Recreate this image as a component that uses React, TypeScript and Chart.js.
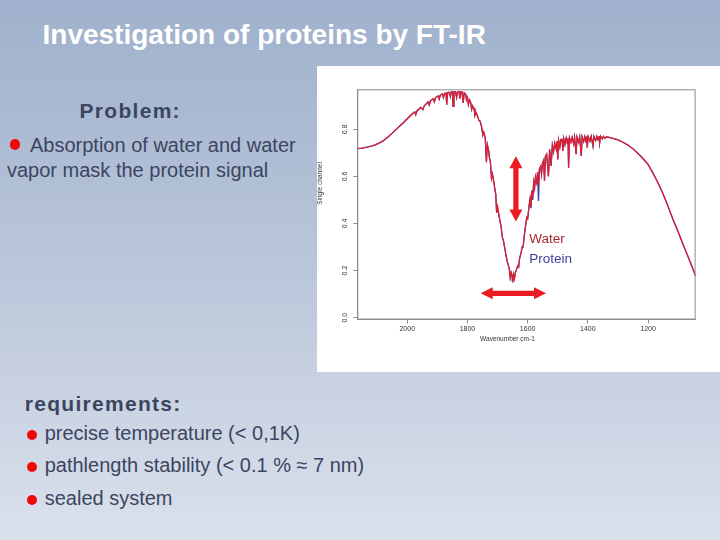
import React, { useEffect, useRef } from "react";
import { Chart, registerables } from "chart.js";

Chart.register(...registerables);

// Wavenumbers (cm-1)
const wavenumbers = [
  2166, 2150, 2131, 2115, 2097, 2080, 2064, 2048, 2031, 2015,
  2000, 1985, 1975, 1972, 1968, 1955, 1948, 1944, 1931, 1927,
  1923, 1914, 1910, 1906, 1898, 1894, 1890, 1883, 1880, 1876,
  1871, 1869, 1866, 1860, 1857, 1854, 1850, 1848, 1845, 1840,
  1836, 1833, 1828, 1825, 1822, 1818, 1814, 1811, 1806, 1803,
  1800, 1797, 1793, 1789, 1786, 1783, 1778, 1775, 1772, 1766,
  1762, 1758, 1752, 1749, 1746, 1741, 1737, 1734, 1730, 1727,
  1724, 1720, 1717, 1712, 1709, 1706, 1703, 1700, 1696, 1692,
  1688, 1684, 1681, 1676, 1672, 1668, 1665, 1661, 1658, 1655,
  1652, 1650, 1647, 1644, 1641, 1637, 1633, 1630, 1627, 1622,
  1618, 1615, 1612, 1607, 1603, 1600, 1596, 1592, 1589, 1586,
  1583, 1580, 1577, 1574, 1570, 1567, 1564, 1561, 1557, 1554,
  1551, 1547, 1544, 1541, 1537, 1531, 1527, 1522, 1518, 1514,
  1510, 1505, 1502, 1500, 1497, 1493, 1490, 1486, 1483, 1480,
  1476, 1472, 1468, 1466, 1464, 1461, 1456, 1452, 1447, 1444,
  1439, 1436, 1431, 1427, 1422, 1419, 1414, 1410, 1406, 1404,
  1402, 1399, 1393, 1389, 1383, 1380, 1374, 1370, 1366, 1363,
  1361, 1358, 1352, 1348, 1343, 1338, 1333, 1320, 1300, 1285,
  1267, 1250, 1234, 1217, 1200, 1184, 1167, 1150, 1134, 1118,
  1101, 1085, 1068, 1055, 1042,
];

// Single channel intensity, water
const water = [
  0.718, 0.720, 0.725, 0.730, 0.739, 0.751, 0.767, 0.786, 0.807, 0.826,
  0.845, 0.864, 0.874, 0.862, 0.878, 0.893, 0.884, 0.899, 0.916, 0.903,
  0.921, 0.930, 0.917, 0.935, 0.942, 0.928, 0.946, 0.950, 0.935, 0.952,
  0.954, 0.905, 0.956, 0.957, 0.940, 0.958, 0.959, 0.898, 0.959, 0.960,
  0.935, 0.960, 0.960, 0.930, 0.959, 0.958, 0.912, 0.955, 0.950, 0.925,
  0.935, 0.905, 0.925, 0.912, 0.885, 0.900, 0.888, 0.860, 0.872, 0.855,
  0.838, 0.835, 0.805, 0.775, 0.788, 0.765, 0.660, 0.735, 0.712, 0.680,
  0.665, 0.592, 0.610, 0.575, 0.545, 0.525, 0.445, 0.470, 0.440, 0.410,
  0.385, 0.340, 0.330, 0.295, 0.265, 0.240, 0.225, 0.208, 0.170, 0.192,
  0.180, 0.150, 0.183, 0.165, 0.190, 0.205, 0.220, 0.215, 0.250, 0.275,
  0.300, 0.300, 0.340, 0.390, 0.425, 0.420, 0.465, 0.505, 0.470, 0.540,
  0.510, 0.575, 0.550, 0.598, 0.575, 0.618, 0.560, 0.632, 0.642, 0.610,
  0.655, 0.668, 0.580, 0.685, 0.694, 0.602, 0.715, 0.644, 0.732, 0.705,
  0.742, 0.715, 0.750, 0.672, 0.753, 0.725, 0.757, 0.758, 0.708, 0.760,
  0.735, 0.762, 0.740, 0.763, 0.637, 0.764, 0.745, 0.766, 0.738, 0.766,
  0.694, 0.767, 0.745, 0.768, 0.687, 0.768, 0.748, 0.769, 0.745, 0.769,
  0.722, 0.769, 0.750, 0.770, 0.729, 0.770, 0.752, 0.770, 0.755, 0.771,
  0.740, 0.771, 0.760, 0.770, 0.762, 0.768, 0.767, 0.763, 0.755, 0.746,
  0.733, 0.717, 0.698, 0.676, 0.651, 0.615, 0.573, 0.525, 0.474, 0.420,
  0.368, 0.315, 0.262, 0.220, 0.177,
];

// Single channel intensity, protein
const protein = [
  0.718, 0.720, 0.725, 0.730, 0.739, 0.751, 0.767, 0.786, 0.807, 0.826,
  0.845, 0.864, 0.874, 0.862, 0.878, 0.893, 0.884, 0.899, 0.916, 0.903,
  0.921, 0.930, 0.917, 0.935, 0.942, 0.928, 0.946, 0.950, 0.935, 0.952,
  0.954, 0.905, 0.956, 0.957, 0.940, 0.958, 0.959, 0.898, 0.959, 0.960,
  0.935, 0.960, 0.960, 0.930, 0.959, 0.958, 0.912, 0.955, 0.950, 0.925,
  0.935, 0.905, 0.925, 0.912, 0.885, 0.900, 0.888, 0.860, 0.872, 0.855,
  0.838, 0.835, 0.805, 0.775, 0.788, 0.765, 0.660, 0.735, 0.712, 0.680,
  0.665, 0.592, 0.610, 0.575, 0.545, 0.525, 0.445, 0.470, 0.440, 0.410,
  0.385, 0.340, 0.330, 0.295, 0.265, 0.240, 0.225, 0.208, 0.170, 0.192,
  0.180, 0.150, 0.183, 0.165, 0.190, 0.205, 0.220, 0.215, 0.250, 0.275,
  0.300, 0.300, 0.340, 0.390, 0.425, 0.420, 0.465, 0.505, 0.465, 0.540,
  0.500, 0.575, 0.550, 0.598, 0.575, 0.618, 0.496, 0.632, 0.642, 0.610,
  0.655, 0.668, 0.585, 0.685, 0.694, 0.600, 0.715, 0.644, 0.732, 0.705,
  0.742, 0.715, 0.750, 0.672, 0.753, 0.725, 0.757, 0.758, 0.708, 0.760,
  0.735, 0.762, 0.740, 0.763, 0.637, 0.764, 0.745, 0.766, 0.738, 0.766,
  0.694, 0.767, 0.745, 0.768, 0.687, 0.768, 0.748, 0.769, 0.745, 0.769,
  0.722, 0.769, 0.750, 0.770, 0.729, 0.770, 0.752, 0.770, 0.755, 0.771,
  0.740, 0.771, 0.760, 0.770, 0.762, 0.768, 0.767, 0.763, 0.755, 0.746,
  0.733, 0.717, 0.698, 0.676, 0.651, 0.615, 0.573, 0.525, 0.474, 0.420,
  0.368, 0.315, 0.262, 0.220, 0.177,
];

const xTicks = [2000, 1800, 1600, 1400, 1200];
const yTicks = [0, 0.2, 0.4, 0.6, 0.8];
const xRange = [1042, 2166];
const yRange = [-0.008, 0.97];
const seriesNames = ["Water", "Protein"];
const legendAnchor = [1595, 0.316, 0.231]; // wavenumber, baseline Water, baseline Protein
const verticalArrow = [1639, 0.686, 0.408]; // wavenumber, top, bottom
const horizontalArrow = [1756, 1539, 0.103]; // from, to, level

const WATER_COLOR = "#e41e2a";
const PROTEIN_COLOR = "#3a3aa8";
const ARROW_COLOR = "#ec1a22";
const FONT = "'Liberation Sans', Arial, sans-serif";

function drawArrowV(ctx: CanvasRenderingContext2D, x: number, y1: number, y2: number) {
  const hl = 12, hw = 6.5, sw = 2.6;
  ctx.beginPath();
  ctx.moveTo(x, y1);
  ctx.lineTo(x + hw, y1 + hl);
  ctx.lineTo(x + sw, y1 + hl);
  ctx.lineTo(x + sw, y2 - hl);
  ctx.lineTo(x + hw, y2 - hl);
  ctx.lineTo(x, y2);
  ctx.lineTo(x - hw, y2 - hl);
  ctx.lineTo(x - sw, y2 - hl);
  ctx.lineTo(x - sw, y1 + hl);
  ctx.lineTo(x - hw, y1 + hl);
  ctx.closePath();
  ctx.fill();
}

function drawArrowH(ctx: CanvasRenderingContext2D, x1: number, x2: number, y: number) {
  const hl = 12, hw = 6, sw = 2.6;
  ctx.beginPath();
  ctx.moveTo(x1, y);
  ctx.lineTo(x1 + hl, y - hw);
  ctx.lineTo(x1 + hl, y - sw);
  ctx.lineTo(x2 - hl, y - sw);
  ctx.lineTo(x2 - hl, y - hw);
  ctx.lineTo(x2, y);
  ctx.lineTo(x2 - hl, y + hw);
  ctx.lineTo(x2 - hl, y + sw);
  ctx.lineTo(x1 + hl, y + sw);
  ctx.lineTo(x1 + hl, y + hw);
  ctx.closePath();
  ctx.fill();
}

const overlayPlugin = {
  id: "overlay",
  afterDraw(chart: any) {
    const ctx: CanvasRenderingContext2D = chart.ctx;
    const xs = chart.scales.x;
    const ys = chart.scales.y;
    const area = chart.chartArea;
    ctx.save();
    // frame
    ctx.strokeStyle = "#8c8c8c";
    ctx.lineWidth = 1;
    ctx.strokeRect(area.left + 0.5, area.top + 0.5, area.right - area.left - 1, area.bottom - area.top - 1);

    // tick labels
    ctx.fillStyle = "#333";
    ctx.font = `7px ${FONT}`;
    ctx.textAlign = "center";
    ctx.textBaseline = "middle";
    xTicks.forEach((v) => {
      ctx.fillText(String(v), xs.getPixelForValue(v), area.bottom + 10);
    });
    yTicks.forEach((v) => {
      ctx.save();
      ctx.translate(area.left - 12, ys.getPixelForValue(v));
      ctx.rotate(-Math.PI / 2);
      ctx.fillText(v.toFixed(1), 0, 0);
      ctx.restore();
    });
    // axis titles
    ctx.font = `6.5px ${FONT}`;
    ctx.fillText("Wavenumber cm-1", (area.left + area.right) / 2 - 19, area.bottom + 20);
    ctx.save();
    ctx.translate(3.5, ys.getPixelForValue(0.57));
    ctx.rotate(-Math.PI / 2);
    ctx.fillText("Single channel", 0, 0);
    ctx.restore();

    // arrows
    ctx.fillStyle = ARROW_COLOR;
    drawArrowV(ctx, xs.getPixelForValue(verticalArrow[0]), ys.getPixelForValue(verticalArrow[1]), ys.getPixelForValue(verticalArrow[2]));
    drawArrowH(ctx, xs.getPixelForValue(horizontalArrow[0]), xs.getPixelForValue(horizontalArrow[1]), ys.getPixelForValue(horizontalArrow[2]));

    // legend
    ctx.font = `13.5px ${FONT}`;
    ctx.textAlign = "left";
    ctx.textBaseline = "alphabetic";
    const lx = xs.getPixelForValue(legendAnchor[0]);
    ctx.fillStyle = "#a8262e";
    ctx.fillText(seriesNames[0], lx, ys.getPixelForValue(legendAnchor[1]));
    ctx.fillStyle = "#40409c";
    ctx.fillText(seriesNames[1], lx, ys.getPixelForValue(legendAnchor[2]));
    ctx.restore();
  },
};

function SpectrumChart() {
  const ref = useRef<HTMLCanvasElement | null>(null);
  useEffect(() => {
    if (!ref.current) return;
    const chart = new Chart(ref.current, {
      type: "line",
      data: {
        datasets: [
          {
            label: seriesNames[0],
            data: wavenumbers.map((x, i) => ({ x, y: water[i] })),
            borderColor: WATER_COLOR,
            borderWidth: 1.2,
            pointRadius: 0,
            tension: 0,
            fill: false,
          },
          {
            label: seriesNames[1],
            data: wavenumbers.map((x, i) => ({ x, y: protein[i] })),
            borderColor: PROTEIN_COLOR,
            borderWidth: 1.3,
            pointRadius: 0,
            tension: 0,
            fill: false,
          },
        ],
      },
      options: {
        animation: false,
        responsive: true,
        maintainAspectRatio: false,
        parsing: false as any,
        layout: { padding: { top: 23.3, right: 24.4, left: 0, bottom: 0 } },
        plugins: { legend: { display: false }, tooltip: { enabled: false } },
        scales: {
          x: {
            type: "linear",
            reverse: true,
            min: xRange[0],
            max: xRange[1],
            afterBuildTicks: (s: any) => {
              s.ticks = xTicks.map((value) => ({ value }));
            },
            afterFit: (s: any) => {
              s.height = 52.5;
            },
            ticks: { display: false },
            grid: { display: true, drawOnChartArea: false, drawTicks: true, tickLength: 4, color: "#8c8c8c", lineWidth: 1 },
            border: { display: true, color: "#8c8c8c", width: 1 },
          },
          y: {
            type: "linear",
            min: yRange[0],
            max: yRange[1],
            afterBuildTicks: (s: any) => {
              s.ticks = yTicks.map((value) => ({ value }));
            },
            afterFit: (s: any) => {
              s.width = 40.3;
            },
            ticks: { display: false },
            grid: { display: true, drawOnChartArea: false, drawTicks: true, tickLength: 4, color: "#8c8c8c", lineWidth: 1 },
            border: { display: true, color: "#8c8c8c", width: 1 },
          },
        },
      },
      plugins: [overlayPlugin],
    });
    return () => chart.destroy();
  }, []);
  return <canvas ref={ref} />;
}

const textColor = "#3b4560";

function Bullet({ x, y, d }: { x: number; y: number; d: number }) {
  return (
    <div
      style={{
        position: "absolute",
        left: x - d / 2,
        top: y - d / 2,
        width: d,
        height: d,
        borderRadius: "50%",
        background: "#f00808",
      }}
    />
  );
}

function Line({ x, top, size, bold, spacing, color, children }: any) {
  return (
    <div
      style={{
        position: "absolute",
        left: x,
        top,
        fontSize: size,
        lineHeight: 1,
        fontWeight: bold ? 700 : 400,
        letterSpacing: spacing || 0,
        color: color || textColor,
        whiteSpace: "nowrap",
        fontFamily: FONT,
      }}
    >
      {children}
    </div>
  );
}

export default function App() {
  return (
    <div
      style={{
        position: "fixed",
        left: 0,
        top: 0,
        width: 720,
        height: 540,
        overflow: "hidden",
        background: "linear-gradient(to bottom, #9fb1cc 0%, #bac6da 50%, #dbe1ec 100%)",
        fontFamily: FONT,
      }}
    >
      <Line x={42.5} top={21.3} size={28} bold color="#ffffff">
        Investigation of proteins by FT-IR
      </Line>
      <Line x={79.5} top={99.5} size={21} bold spacing={1.3}>
        Problem:
      </Line>
      <Bullet x={15} y={144.7} d={10.7} />
      <Line x={30} top={134.6} size={20}>
        Absorption of water and water
      </Line>
      <Line x={7} top={159.6} size={20}>
        vapor mask the protein signal
      </Line>

      <div style={{ position: "absolute", left: 317, top: 66, width: 403, height: 306, background: "#ffffff" }}>
        <SpectrumChart />
      </div>

      <Line x={24.7} top={393.2} size={21} bold spacing={1.3}>
        requirements:
      </Line>
      <Bullet x={31.8} y={435} d={10.5} />
      <Line x={44.7} top={423.1} size={20}>
        precise temperature (&lt; 0,1K)
      </Line>
      <Bullet x={31.8} y={466.8} d={10.5} />
      <Line x={44.7} top={455.4} size={20}>
        pathlength stability (&lt; 0.1 % ≈ 7 nm)
      </Line>
      <Bullet x={31.8} y={500} d={10.5} />
      <Line x={44.7} top={488.1} size={20}>
        sealed system
      </Line>
    </div>
  );
}
